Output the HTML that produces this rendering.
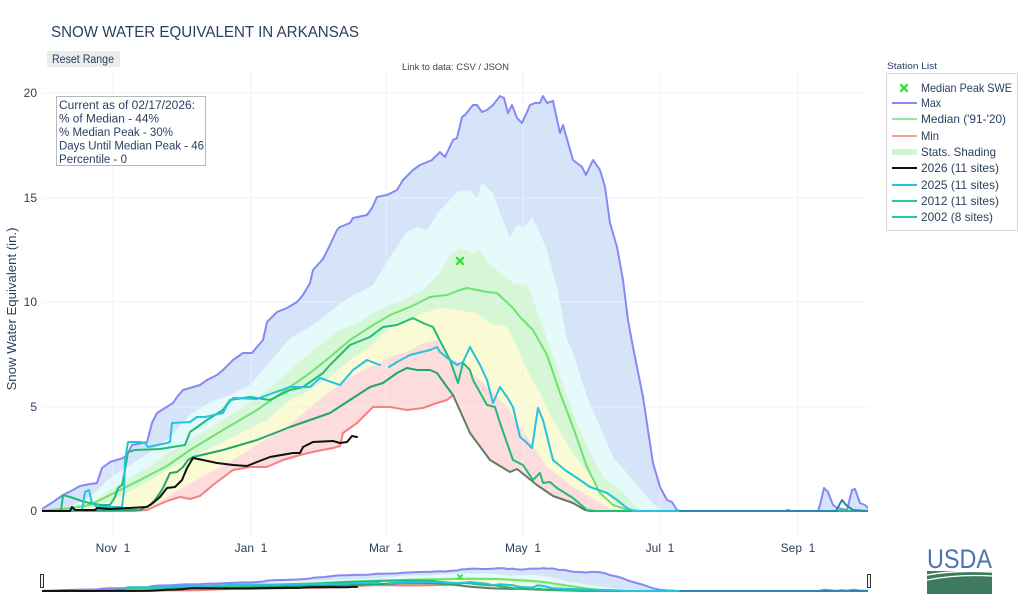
<!DOCTYPE html>
<html>
<head>
<meta charset="utf-8">
<style>
html,body{margin:0;padding:0;background:#fff;}
svg{display:block;}
text{font-family:"Liberation Sans",Arial,sans-serif;}
.ln{fill:none;stroke-linejoin:round;stroke-linecap:round;}
</style>
</head>
<body>
<svg width="1023" height="597" viewBox="0 0 1023 597" xmlns="http://www.w3.org/2000/svg">
<defs>
<clipPath id="cpMain"><rect x="42" y="72" width="826" height="465"/></clipPath>
<clipPath id="cpSl"><rect x="42" y="560" width="826" height="35"/></clipPath>
<g id="fills">
  <polygon fill="#d6e4f9" points="42,509 53,502 63,495 73,490 80,486 90,484 97,483 102,468 110,462 123,458 127,455 132,445 147,442 152,423 157,413 173,403 177,397 183,390 200,385 207,380 217,375 223,370 233,360 243,353 252,353 257,347 263,340 267,322 277,312 287,308 297,302 303,295 310,283 313,270 323,259 330,245 337,230 340,227 350,223 353,218 367,215 372,208 377,197 387,195 397,190 403,180 413,170 420,165 432,160 440,152 445,157 453,140 457,138 462,117 465,115 473,105 477,105 482,112 487,110 493,105 500,96 504,98 508,113 512,105 517,118 522,123 527,112 530,105 535,103 540,103 543,96 547,103 553,101 560,133 563,125 573,160 582,167 586,175 593,160 600,170 605,187 610,223 617,247 623,280 628,320 633,347 643,397 653,463 660,487 667,500 672,502 677,510 680,511 785,511 788,510 791,511 818,511 820,505 824,488 828,492 833,505 837,508 847,510 852,490 855,489 860,503 865,505 868,508 868,511 42,511"/>
  <polygon fill="#e5fafa" points="42,511 70,507 90,497 110,478 130,465 150,452 170,437 190,415 210,402 230,395 250,385 270,362 290,338 310,327 330,312 350,297 360,292 373,285 390,257 407,232 417,227 427,230 440,210 450,200 457,192 470,190 477,198 482,183 493,193 500,213 510,237 517,225 525,227 532,217 537,227 547,250 557,287 567,340 573,353 587,397 597,420 613,457 633,480 647,497 660,510 670,511"/>
  <polygon fill="#d5f7d5" points="42,511 70,509 90,503 110,490 130,478 150,466 170,452 190,440 210,428 230,415 250,402 270,388 290,370 310,353 323,343 340,330 357,323 373,313 390,305 407,298 423,290 440,273 450,255 460,248 473,253 480,250 487,262 500,273 513,283 527,285 533,300 540,320 557,367 573,413 587,447 603,477 623,493 640,510 648,511"/>
  <polygon fill="#fafad4" points="42,511 80,510 100,505 133,490 167,470 200,453 233,437 267,420 290,400 310,390 330,377 350,360 370,347 390,327 407,320 423,313 440,308 457,310 477,313 490,323 507,327 517,347 527,370 540,393 553,420 573,453 593,480 613,500 627,510 635,511"/>
  <polygon fill="#fcdcdc" points="42,511 140,511 150,508 170,495 200,478 230,462 260,443 290,425 310,407 330,392 350,377 370,367 390,357 407,352 423,343 437,340 447,357 460,363 483,383 507,407 527,437 547,467 573,487 600,503 613,510 620,511"/>
  <polygon fill="#ffffff" points="42,511 133,511 147,510 160,504 170,500 180,497 190,499 200,496 213,485 233,470 250,467 267,467 283,460 300,455 317,451 333,448 340,446 343,433 357,423 373,407 390,407 407,410 423,408 437,403 447,400 453,395 470,433 490,460 510,472 517,469 537,485 553,496 573,503 585,510 590,511 868,511"/>
</g>
<g id="lines">
  <polyline class="ln" vector-effect="non-scaling-stroke" stroke="#8888f4" stroke-width="2" points="42,509 53,502 63,495 73,490 80,486 90,484 97,483 102,468 110,462 123,458 127,455 132,445 147,442 152,423 157,413 173,403 177,397 183,390 200,385 207,380 217,375 223,370 233,360 243,353 252,353 257,347 263,340 267,322 277,312 287,308 297,302 303,295 310,283 313,270 323,259 330,245 337,230 340,227 350,223 353,218 367,215 372,208 377,197 387,195 397,190 403,180 413,170 420,165 432,160 440,152 445,157 453,140 457,138 462,117 465,115 473,105 477,105 482,112 487,110 493,105 500,96 504,98 508,113 512,105 517,118 522,123 527,112 530,105 535,103 540,103 543,96 547,103 553,101 560,133 563,125 573,160 582,167 586,175 593,160 600,170 605,187 610,223 617,247 623,280 628,320 633,347 643,397 653,463 660,487 667,500 672,502 677,510 680,511 785,511 788,510 791,511 818,511 820,505 824,488 828,492 833,505 837,508 847,510 852,490 855,489 860,503 865,505 868,508"/>
  <polyline class="ln" vector-effect="non-scaling-stroke" stroke="#6fe26f" stroke-width="2" points="42,511 70,508 90,505 110,495 140,480 167,466 190,450 223,430 257,410 290,387 310,373 330,357 350,340 370,327 390,315 410,307 430,297 447,295 460,290 467,288 487,292 497,293 513,308 520,317 533,330 547,355 560,393 573,427 587,467 600,493 613,505 625,509 640,511 868,511"/>
  <polyline class="ln" vector-effect="non-scaling-stroke" stroke="#f58080" stroke-width="2" points="42,511 133,511 147,510 160,504 170,500 180,497 190,499 200,496 213,485 233,470 250,467 267,467 283,460 300,455 317,451 333,448 340,446 343,433 357,423 373,407 390,407 407,410 423,408 437,403 447,400 453,395"/>
  <polyline class="ln" vector-effect="non-scaling-stroke" stroke="#22a56e" stroke-width="2" points="42,511 140,510 150,505 155,500 160,493 163,488 170,473 177,472 183,467 188,460 193,457 223,450 257,440 290,427 310,420 330,413 350,400 370,387 383,383 397,373 407,368 417,370 430,370 437,373 447,387 453,395"/>
  <polyline class="ln" vector-effect="non-scaling-stroke" stroke="#5f7d62" stroke-width="2" points="453,395 470,433 490,460 510,472 517,469 537,485 553,496 573,503 585,510 590,511 868,511"/>
  <polyline class="ln" vector-effect="non-scaling-stroke" stroke="#1fbd78" stroke-width="2" points="42,511 61,511 63,495 70,497 85,502 100,505 110,505 115,497 118,488 122,485 125,470 128,452 135,450 160,449 185,445 190,432 200,425 207,420 223,410 230,400 250,397 270,400 290,390 303,387 323,373 330,365 350,345 370,337 383,327 397,325 413,318 423,323 433,327 438,337 450,360 458,383 463,363 470,370 473,380 487,405 495,407 500,423 507,443 513,460 523,465 533,480 540,473 543,483 550,482 557,488 573,498 587,510 595,511 868,511"/>
  <polyline class="ln" vector-effect="non-scaling-stroke" stroke="#25c3df" stroke-width="2" points="42,511 82,511 85,492 89,490 92,503 97,507 122,507 124,490 125,460 128,442 140,442 145,443 148,447 167,443 170,442 172,423 190,422 197,417 205,417 223,413 227,405 233,398 257,399 273,393 290,387 310,387 320,378 340,385 353,370 367,360 380,365"/>
  <polyline class="ln" vector-effect="non-scaling-stroke" stroke="#25c3df" stroke-width="2" points="389,367 397,362 410,355 430,350 437,347 440,352 450,360 457,365 463,362 470,347 480,365 487,380 493,403 500,387 507,397 513,407 520,437 526,442 532,448 538,408 543,420 553,460 565,470 580,480 590,487 607,493 617,500 627,508 633,511 700,511"/>
  <polyline class="ln" vector-effect="non-scaling-stroke" stroke="#2a86b5" stroke-width="2" points="680,511 836,511 842,500 846,505 853,510 868,511"/>
  <polyline class="ln" vector-effect="non-scaling-stroke" stroke="#111111" stroke-width="2" points="42,511 70,511 72,507 75,510 95,510 97,508 110,509 147,507 153,503 160,497 167,488 175,487 182,480 187,468 193,458 203,460 217,463 233,465 247,466 257,462 270,457 293,453 300,453 303,447 313,442 333,441 340,443 347,442 352,436 357,437"/>
</g>
</defs>

<!-- gridlines (under, for white areas) -->
<g stroke="#ebf0f8" stroke-width="1">
  <line x1="113" y1="72" x2="113" y2="537"/>
  <line x1="251" y1="72" x2="251" y2="537"/>
  <line x1="386" y1="72" x2="386" y2="537"/>
  <line x1="523" y1="72" x2="523" y2="537"/>
  <line x1="660" y1="72" x2="660" y2="537"/>
  <line x1="798" y1="72" x2="798" y2="537"/>
</g>

<g clip-path="url(#cpMain)">
  <use href="#fills"/>
</g>

<!-- gridlines over fills (light) -->
<g stroke="#edf1f9" stroke-width="1" opacity="0.8">
  <line x1="42" y1="93" x2="868" y2="93"/>
  <line x1="42" y1="198" x2="868" y2="198"/>
  <line x1="42" y1="302" x2="868" y2="302"/>
  <line x1="42" y1="407" x2="868" y2="407"/>
  <line x1="113" y1="72" x2="113" y2="511"/>
  <line x1="251" y1="72" x2="251" y2="511"/>
  <line x1="386" y1="72" x2="386" y2="511"/>
  <line x1="523" y1="72" x2="523" y2="511"/>
  <line x1="660" y1="72" x2="660" y2="511"/>
  <line x1="798" y1="72" x2="798" y2="511"/>
</g>

<g clip-path="url(#cpMain)">
  <use href="#lines"/>
</g>

<!-- median peak marker -->
<g stroke="#3ee03e" stroke-width="2.5" stroke-linecap="round">
  <line x1="457" y1="258" x2="463" y2="264"/>
  <line x1="463" y1="258" x2="457" y2="264"/>
</g>

<!-- title etc -->
<text x="51" y="37" font-size="16" fill="#2a3f5f" textLength="308" lengthAdjust="spacingAndGlyphs">SNOW WATER EQUIVALENT IN ARKANSAS</text>
<rect x="47" y="51" width="73" height="16" rx="2" fill="#ececec"/>
<text x="52" y="63" font-size="11.5" fill="#2a3f5f" textLength="62" lengthAdjust="spacingAndGlyphs">Reset Range</text>
<text x="402" y="70" font-size="9.5" fill="#444" textLength="107" lengthAdjust="spacingAndGlyphs">Link to data: CSV / JSON</text>

<!-- info box -->
<rect x="56.5" y="96.5" width="149" height="69" fill="#fff" stroke="#b8b8b8" stroke-width="1"/>
<g font-size="11.5" fill="#2a3f5f">
  <text x="59" y="109" textLength="136" lengthAdjust="spacingAndGlyphs">Current as of 02/17/2026:</text>
  <text x="59" y="122.5" textLength="100" lengthAdjust="spacingAndGlyphs">% of Median - 44%</text>
  <text x="59" y="136" textLength="114" lengthAdjust="spacingAndGlyphs">% Median Peak - 30%</text>
  <text x="59" y="149.5" textLength="145" lengthAdjust="spacingAndGlyphs">Days Until Median Peak - 46</text>
  <text x="59" y="163" textLength="68" lengthAdjust="spacingAndGlyphs">Percentile - 0</text>
</g>

<!-- y ticks -->
<g font-size="12" fill="#2a3f5f" text-anchor="end">
  <text x="37" y="97">20</text>
  <text x="37" y="202">15</text>
  <text x="37" y="306">10</text>
  <text x="37" y="411">5</text>
  <text x="37" y="515">0</text>
</g>
<text x="0" y="0" font-size="12.5" fill="#2a3f5f" text-anchor="middle" transform="translate(16,309) rotate(-90)" textLength="163" lengthAdjust="spacingAndGlyphs">Snow Water Equivalent (in.)</text>

<!-- x ticks -->
<g font-size="12" fill="#2a3f5f" text-anchor="middle" style="white-space:pre">
  <text x="113" y="552" xml:space="preserve">Nov  1</text>
  <text x="251" y="552" xml:space="preserve">Jan  1</text>
  <text x="386" y="552" xml:space="preserve">Mar  1</text>
  <text x="523" y="552" xml:space="preserve">May  1</text>
  <text x="660" y="552" xml:space="preserve">Jul  1</text>
  <text x="798" y="552" xml:space="preserve">Sep  1</text>
</g>

<!-- range slider -->
<g clip-path="url(#cpSl)">
  <use href="#fills" transform="matrix(1,0,0,0.055,0,562.9)"/>
  <use href="#lines" transform="matrix(1,0,0,0.055,0,562.9)"/>
</g>
<g stroke="#3ee03e" stroke-width="1.8" stroke-linecap="round">
  <line x1="458" y1="575" x2="462" y2="579"/>
  <line x1="462" y1="575" x2="458" y2="579"/>
</g>
<rect x="40.5" y="574.5" width="3" height="13" fill="#eee" stroke="#333" stroke-width="1"/>
<rect x="867.5" y="574.5" width="3" height="13" fill="#eee" stroke="#333" stroke-width="1"/>

<!-- legend -->
<text x="887" y="69" font-size="9.5" fill="#2a3f5f" textLength="50" lengthAdjust="spacingAndGlyphs">Station List</text>
<rect x="886.5" y="73.5" width="131" height="157" fill="#fff" stroke="#d4d4d4" stroke-width="1"/>
<g stroke="#3ee03e" stroke-width="2.5" stroke-linecap="round">
  <line x1="901" y1="85" x2="907" y2="91"/>
  <line x1="907" y1="85" x2="901" y2="91"/>
</g>
<line x1="892" y1="103" x2="917" y2="103" stroke="#8888f4" stroke-width="2"/>
<line x1="892" y1="119" x2="917" y2="119" stroke="#90ee90" stroke-width="2"/>
<line x1="892" y1="136" x2="917" y2="136" stroke="#f7a0a0" stroke-width="2"/>
<line x1="892" y1="152" x2="917" y2="152" stroke="#d0f6d0" stroke-width="6"/>
<line x1="892" y1="168" x2="917" y2="168" stroke="#111" stroke-width="2"/>
<line x1="892" y1="185" x2="917" y2="185" stroke="#25c3df" stroke-width="2"/>
<line x1="892" y1="201" x2="917" y2="201" stroke="#27cc8a" stroke-width="2"/>
<line x1="892" y1="217" x2="917" y2="217" stroke="#22c9a6" stroke-width="2"/>
<g font-size="12" fill="#2a3f5f">
  <text x="921" y="92" textLength="91" lengthAdjust="spacingAndGlyphs">Median Peak SWE</text>
  <text x="921" y="107" textLength="20" lengthAdjust="spacingAndGlyphs">Max</text>
  <text x="921" y="123" textLength="85" lengthAdjust="spacingAndGlyphs">Median ('91-'20)</text>
  <text x="921" y="140" textLength="18" lengthAdjust="spacingAndGlyphs">Min</text>
  <text x="921" y="156" textLength="75" lengthAdjust="spacingAndGlyphs">Stats. Shading</text>
  <text x="921" y="172" textLength="78" lengthAdjust="spacingAndGlyphs">2026 (11 sites)</text>
  <text x="921" y="189" textLength="78" lengthAdjust="spacingAndGlyphs">2025 (11 sites)</text>
  <text x="921" y="205" textLength="78" lengthAdjust="spacingAndGlyphs">2012 (11 sites)</text>
  <text x="921" y="221" textLength="72" lengthAdjust="spacingAndGlyphs">2002 (8 sites)</text>
</g>

<!-- USDA logo -->
<text x="927" y="568" font-family="Liberation Serif, serif" font-size="27" fill="#4b72b2" textLength="65" lengthAdjust="spacingAndGlyphs">USDA</text>
<rect x="927" y="571" width="65" height="23" fill="#3d7a60"/>
<path d="M927,575 Q955,570 992,572" stroke="#fff" stroke-width="1.5" fill="none"/>
<path d="M927,580 Q958,574 992,576" stroke="#fff" stroke-width="1.2" fill="none"/>
</svg>
</body>
</html>
